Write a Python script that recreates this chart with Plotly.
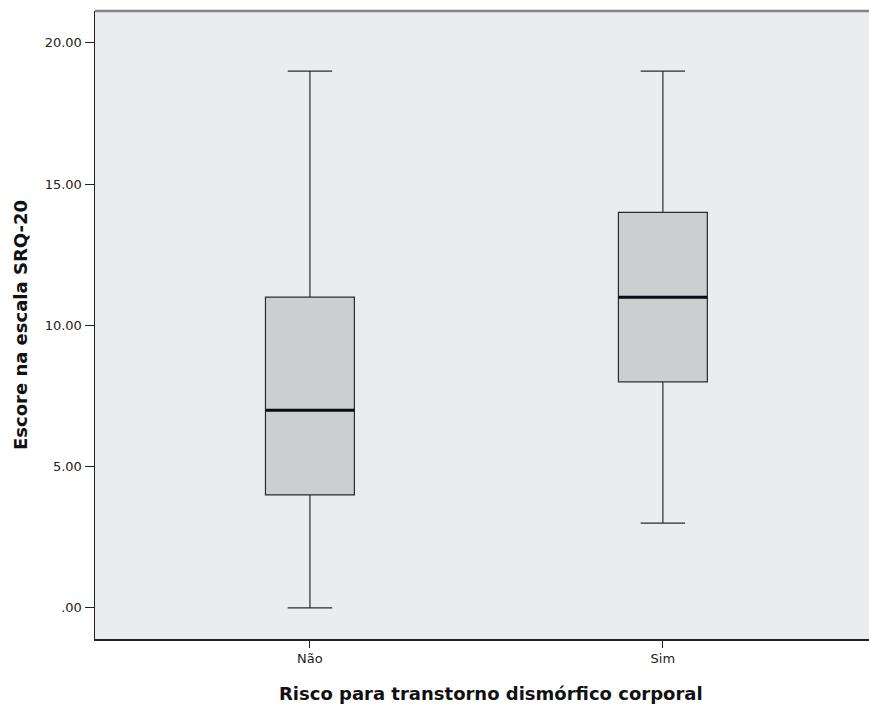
import plotly.graph_objects as go

categories = ["Não", "Sim"]
x_pos = [1, 2]
lower_whisker = [0, 3]
q1 = [4, 8]
median = [7, 11]
q3 = [11, 14]
upper_whisker = [19, 19]
y_tickvals = [0, 5, 10, 15, 20]
y_ticktext = [".00", "5.00", "10.00", "15.00", "20.00"]

box_width = 0.252
font_family = "DejaVu Sans, Liberation Sans, Arial, sans-serif"

fig = go.Figure()
fig.add_trace(go.Box(
    x=x_pos, q1=q1, median=median, q3=q3,
    lowerfence=lower_whisker, upperfence=upper_whisker,
    width=box_width, whiskerwidth=0.5,
    fillcolor="#cdced0", line=dict(color="#2b2b2b", width=1.2),
    boxpoints=False, showlegend=False, hoverinfo="skip",
))
for xp, m in zip(x_pos, median):
    fig.add_trace(go.Scatter(
        x=[xp - box_width / 2, xp + box_width / 2], y=[m, m],
        mode="lines", line=dict(color="#0a0a14", width=3),
        showlegend=False, hoverinfo="skip",
    ))

fig.update_layout(
    width=869, height=704,
    margin=dict(l=95, r=0, t=11, b=65),
    paper_bgcolor="white", plot_bgcolor="#ebecef",
    font=dict(family=font_family, color="#222222"),
    xaxis=dict(
        range=[0.391, 2.584], tickvals=x_pos, ticktext=categories,
        showgrid=False, zeroline=False, showline=True, linecolor="#222222", linewidth=1.5,
        ticks="outside", ticklen=7, tickcolor="#222222", tickfont=dict(size=13, color="#222222"),
    ),
    yaxis=dict(
        range=[-1.1, 21.13], tickvals=y_tickvals, ticktext=y_ticktext,
        showgrid=False, zeroline=False, showline=True, linecolor="#222222", linewidth=1.5,
        ticks="outside", ticklen=9, tickcolor="#222222", tickfont=dict(size=13, color="#222222"),
    ),
    shapes=[dict(type="line", xref="paper", yref="paper", x0=0, x1=1, y0=1, y1=1,
                 line=dict(color="#858585", width=2.5))],
    annotations=[
        dict(text="<b>Risco para transtorno dismórfico corporal</b>", xref="paper", yref="paper",
             x=0.5, y=0, xshift=9, yshift=-54, xanchor="center", yanchor="middle",
             showarrow=False, font=dict(size=18, color="#111111", family=font_family)),
        dict(text="<b>Escore na escala SRQ-20</b>", xref="paper", yref="paper",
             x=0, y=0.5, xshift=-75, xanchor="center", yanchor="middle", textangle=-90,
             showarrow=False, font=dict(size=18, color="#111111", family=font_family)),
    ],
)

fig.write_html(
    "out.html",
    config={"displayModeBar": False, "staticPlot": True},
    post_script="document.body.style.margin='0';document.body.style.padding='0';"
                "document.documentElement.style.overflow='hidden';document.body.style.overflow='hidden';",
)
